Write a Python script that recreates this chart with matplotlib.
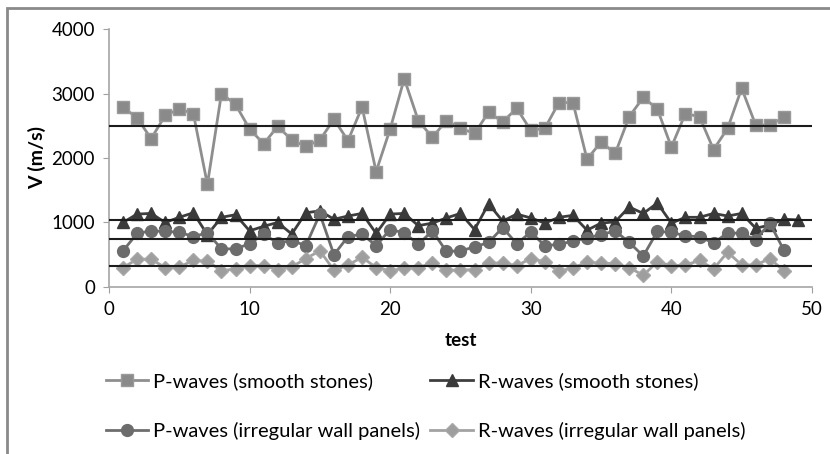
import numpy as np
import matplotlib
matplotlib.use("Agg")
import matplotlib.pyplot as plt
from matplotlib.patches import Rectangle

plt.rcParams['font.family'] = ['Lato', 'DejaVu Sans']

# velocities per test (m/s)
p_smooth = [2790, 2620, 2300, 2660, 2760, 2690, 1590, 3000, 2830, 2450,
            2220, 2490, 2280, 2180, 2280, 2600, 2270, 2790, 1790, 2450,
            3230, 2580, 2320, 2580, 2460, 2380, 2710, 2560, 2770, 2430,
            2460, 2860, 2860, 1980, 2250, 2070, 2640, 2940, 2760, 2170,
            2690, 2640, 2130, 2460, 3080, 2510, 2510, 2630]
r_smooth = [1000, 1130, 1140, 1000, 1080, 1150, 810, 1080, 1120, 870,
            940, 1000, 820, 1150, 1180, 1050, 1100, 1140, 830, 1130,
            1140, 950, 990, 1070, 1140, 890, 1290, 1020, 1130, 1070,
            990, 1080, 1110, 880, 990, 1010, 1240, 1140, 1300, 990,
            1080, 1080, 1140, 1100, 1140, 910, 960, 1050, 1040]
p_irreg = [560, 830, 870, 860, 850, 780, 840, 590, 590, 670,
           820, 680, 720, 640, 1130, 500, 780, 820, 640, 890,
           840, 660, 870, 550, 560, 620, 690, 920, 670, 850,
           640, 660, 710, 760, 810, 870, 690, 480, 860, 850,
           790, 780, 680, 840, 830, 730, 990, 570]
r_irreg = [300, 430, 430, 300, 310, 410, 400, 250, 280, 330,
           330, 270, 310, 440, 560, 260, 340, 460, 300, 250,
           290, 300, 370, 260, 260, 270, 370, 370, 330, 440,
           390, 240, 300, 380, 370, 360, 300, 180, 390, 330,
           340, 410, 280, 540, 340, 340, 440, 250]

# mean level of each series
mean_levels = [2500, 1040, 740, 330]

fig = plt.figure(figsize=(8.3, 4.54), dpi=100)
ax = fig.add_axes([0.1313, 0.368, 0.8470, 0.568])

def tests(vals):
    return np.arange(1, len(vals) + 1)

h1, = ax.plot(tests(p_smooth), p_smooth, '-s', color='#8e8e8e', lw=2,
              ms=8.5, mfc='#8a8a8a', mec='#9a9a9a',
              label='P-waves (smooth stones)')
h2, = ax.plot(tests(r_smooth), r_smooth, '-^', color='#3e3e3e', lw=2,
              ms=9, mfc='#3a3a3a', mec='#3a3a3a',
              label='R-waves (smooth stones)')
h3, = ax.plot(tests(p_irreg), p_irreg, '-o', color='#6e6e6e', lw=2,
              ms=8.5, mfc='#6c6c6c', mec='#6c6c6c',
              label='P-waves (irregular wall panels)')
h4, = ax.plot(tests(r_irreg), r_irreg, '-D', color='#a2a2a2', lw=2,
              ms=7, mfc='#9e9e9e', mec='#a8a8a8',
              label='R-waves (irregular wall panels)')

ax.hlines(mean_levels, 0, 50, color='#1c1c1c', lw=1.5, zorder=5)

ax.set_xlim(0, 50)
ax.set_ylim(0, 4000)
ax.set_xticks(np.arange(0, 51, 10))
ax.set_yticks(np.arange(0, 4001, 1000))
ax.tick_params(labelsize=13.5, colors='#000000', length=4,
               color='#a0a0a0', pad=6)
for s in ['top', 'right']:
    ax.spines[s].set_visible(False)
for s in ['left', 'bottom']:
    ax.spines[s].set_color('#a6a6a6')
    ax.spines[s].set_linewidth(1.2)

ax.set_xlabel('test', fontsize=13.5, fontweight='bold', labelpad=10)
ax.set_ylabel('V (m/s)', fontsize=14, fontweight='bold', labelpad=4)

fig.legend(handles=[h1, h3, h2, h4], ncol=2, loc='upper left',
           bbox_to_anchor=(0.118, 0.197), frameon=False, fontsize=14.5,
           handlelength=2.1, handletextpad=0.25, columnspacing=0.5,
           labelspacing=1.55, borderaxespad=0)

# outer chart border
fig.patches.append(Rectangle((7 / 830, -0.1), 1.2, 1.1 - 8 / 454,
                             transform=fig.transFigure, fill=False,
                             edgecolor='#8a8a8a', lw=2))

fig.savefig('out.png', dpi=100)
